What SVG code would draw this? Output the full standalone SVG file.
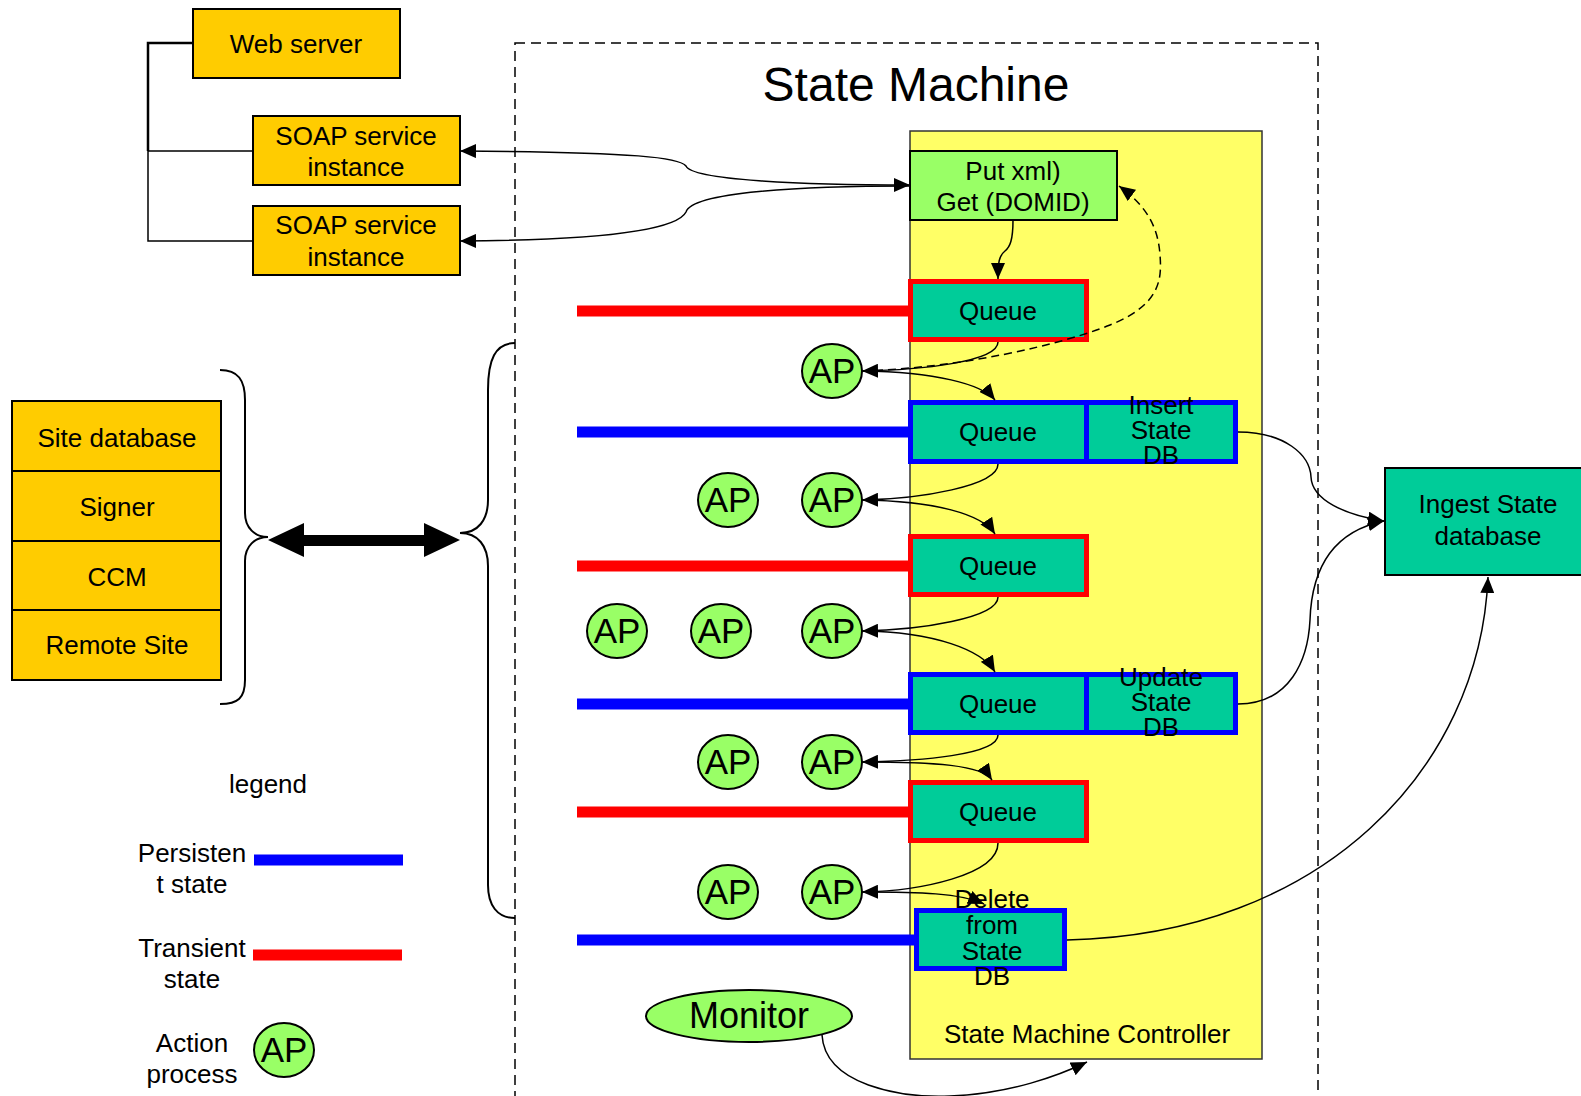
<svg xmlns="http://www.w3.org/2000/svg" width="1581" height="1096" viewBox="0 0 1581 1096">
<defs>
<marker id="arr" markerUnits="userSpaceOnUse" markerWidth="16" markerHeight="14" refX="16" refY="7" orient="auto-start-reverse" viewBox="0 0 16 14">
<path d="M0,0 L16,7 L0,14 z" fill="#000"/>
</marker>
<style>
text{font-family:"Liberation Sans",Arial,sans-serif;font-size:26px;fill:#000;text-anchor:middle}
.orange{fill:#FFCC00;stroke:#000;stroke-width:2}
.teal{fill:#00CC99}
.red{stroke:#FF0000;stroke-width:5}
.blue{stroke:#0000FF;stroke-width:5}
.ap{fill:#99FF66;stroke:#000;stroke-width:2}
.ap-t{font-size:35px}
.link{fill:none;stroke:#000;stroke-width:1.5}
.rl{stroke:#FF0000;stroke-width:11}
.bl{stroke:#0000FF;stroke-width:11}
</style>
</defs>
<rect width="1581" height="1096" fill="#fff"/>

<!-- state machine boundary -->
<g id="state-machine">
<rect x="515" y="43" width="803" height="1070" fill="none" stroke="#000" stroke-width="1.5" stroke-dasharray="10,6"/>
<text x="916" y="101" style="font-size:48px">State Machine</text>
</g>

<!-- controller -->
<g id="controller">
<rect x="910" y="131" width="352" height="928" fill="#FFFF66" stroke="#333" stroke-width="1.5"/>
<text x="1087" y="1043">State Machine Controller</text>
</g>

<!-- web tier -->
<g id="tree" fill="none" stroke="#000">
<path d="M193,43 H148 V151" stroke-width="2.5"/>
<path d="M253,151 H148 V241 H253" stroke-width="1.5"/>
</g>
<g id="web-server"><rect class="orange" x="193" y="9" width="207" height="69"/><text x="296" y="53">Web server</text></g>
<g id="soap-1"><rect class="orange" x="253" y="116" width="207" height="69"/><text x="356" y="145">SOAP service</text><text x="356" y="176">instance</text></g>
<g id="soap-2"><rect class="orange" x="253" y="206" width="207" height="69"/><text x="356" y="234">SOAP service</text><text x="356" y="266">instance</text></g>

<!-- external services -->
<g id="services">
<rect class="orange" x="12" y="401" width="209" height="70"/><text x="117" y="447">Site database</text>
<rect class="orange" x="12" y="471" width="209" height="70"/><text x="117" y="516">Signer</text>
<rect class="orange" x="12" y="541" width="209" height="69"/><text x="117" y="586">CCM</text>
<rect class="orange" x="12" y="610" width="209" height="70"/><text x="117" y="654">Remote Site</text>
</g>
<g id="braces" fill="none" stroke="#000" stroke-width="2">
<path d="M220,370 C238,370 245,380 245,400 L245,513 C245,528 255,537 268,537 C255,537 245,546 245,561 L245,680 C245,698 238,704 220,704"/>
<path d="M515,343 C495,343 488,360 488,390 L488,500 C488,520 478,533 460,533 C478,533 488,546 488,566 L488,885 C488,905 497,918 515,918"/>
</g>
<g id="service-link">
<polygon points="268,540 304,523 304,535 424,535 424,523 460,540 424,557 424,546 304,546 304,557" fill="#000"/>
</g>

<!-- state lines -->
<g id="state-lines">
<line class="rl" x1="577" y1="311" x2="910" y2="311"/>
<line class="bl" x1="577" y1="432" x2="910" y2="432"/>
<line class="rl" x1="577" y1="566" x2="910" y2="566"/>
<line class="bl" x1="577" y1="704" x2="910" y2="704"/>
<line class="rl" x1="577" y1="812" x2="910" y2="812"/>
<line class="bl" x1="577" y1="940" x2="916" y2="940"/>
</g>

<!-- controller contents -->
<g id="put-get"><rect x="910" y="151" width="207" height="69" fill="#99FF66" stroke="#000" stroke-width="2"/><text x="1013" y="180">Put xml)</text><text x="1013" y="211">Get (DOMID)</text></g>
<g id="queue-1"><rect class="teal red" x="910.5" y="281.5" width="176" height="58"/><text x="998" y="320">Queue</text></g>
<g id="queue-2"><rect class="teal blue" x="910.5" y="402.5" width="176" height="59"/><text x="998" y="441">Queue</text></g>
<g id="insert-db"><rect class="teal blue" x="1086.5" y="402.5" width="149" height="59"/><text x="1161" y="414">Insert</text><text x="1161" y="439">State</text><text x="1161" y="464">DB</text></g>
<g id="queue-3"><rect class="teal red" x="910.5" y="536.5" width="176" height="58"/><text x="998" y="575">Queue</text></g>
<g id="queue-4"><rect class="teal blue" x="910.5" y="674.5" width="176" height="58"/><text x="998" y="713">Queue</text></g>
<g id="update-db"><rect class="teal blue" x="1086.5" y="674.5" width="149" height="58"/><text x="1161" y="686">Update</text><text x="1161" y="711">State</text><text x="1161" y="736">DB</text></g>
<g id="queue-5"><rect class="teal red" x="910.5" y="782.5" width="176" height="58"/><text x="998" y="821">Queue</text></g>
<g id="delete-db"><rect class="teal blue" x="916.5" y="910.5" width="148" height="58"/><text x="992" y="908">Delete</text><text x="992" y="934">from</text><text x="992" y="960">State</text><text x="992" y="985">DB</text></g>

<!-- action processes -->
<g id="ap-1"><ellipse class="ap" cx="832" cy="371" rx="30" ry="27"/><text class="ap-t" x="832" y="383">AP</text></g>
<g id="ap-2a"><ellipse class="ap" cx="728" cy="500" rx="30" ry="27"/><text class="ap-t" x="728" y="512">AP</text></g>
<g id="ap-2b"><ellipse class="ap" cx="832" cy="500" rx="30" ry="27"/><text class="ap-t" x="832" y="512">AP</text></g>
<g id="ap-3a"><ellipse class="ap" cx="617" cy="631" rx="30" ry="27"/><text class="ap-t" x="617" y="643">AP</text></g>
<g id="ap-3b"><ellipse class="ap" cx="721" cy="631" rx="30" ry="27"/><text class="ap-t" x="721" y="643">AP</text></g>
<g id="ap-3c"><ellipse class="ap" cx="832" cy="631" rx="30" ry="27"/><text class="ap-t" x="832" y="643">AP</text></g>
<g id="ap-4a"><ellipse class="ap" cx="728" cy="762" rx="30" ry="27"/><text class="ap-t" x="728" y="774">AP</text></g>
<g id="ap-4b"><ellipse class="ap" cx="832" cy="762" rx="30" ry="27"/><text class="ap-t" x="832" y="774">AP</text></g>
<g id="ap-5a"><ellipse class="ap" cx="728" cy="892" rx="30" ry="27"/><text class="ap-t" x="728" y="904">AP</text></g>
<g id="ap-5b"><ellipse class="ap" cx="832" cy="892" rx="30" ry="27"/><text class="ap-t" x="832" y="904">AP</text></g>

<g id="monitor"><ellipse class="ap" cx="749" cy="1016" rx="103" ry="26"/><text x="749" y="1028" style="font-size:36px">Monitor</text></g>

<g id="ingest-db"><rect class="teal" x="1385" y="468" width="200" height="107" stroke="#000" stroke-width="2"/><text x="1488" y="513">Ingest State</text><text x="1488" y="545">database</text></g>

<!-- legend -->
<g id="legend">
<text x="268" y="793">legend</text>
<text x="192" y="862">Persisten</text><text x="192" y="893">t state</text>
<line class="bl" x1="254" y1="860" x2="403" y2="860"/>
<text x="192" y="957">Transient</text><text x="192" y="988">state</text>
<line class="rl" x1="253" y1="955" x2="402" y2="955"/>
<text x="192" y="1052">Action</text><text x="192" y="1083">process</text>
<ellipse class="ap" cx="284" cy="1050" rx="30" ry="27"/><text class="ap-t" x="284" y="1062">AP</text>
</g>

<!-- connectors -->
<g id="connectors" class="link" fill="none" stroke="#000" stroke-width="1.5">
<path d="M460,151 C640,152 680,158 686,166 C692,180 800,185 910,185" marker-start="url(#arr)" marker-end="url(#arr)"/>
<path d="M460,241 C640,240 680,224 686,212 C692,192 800,186 910,186" marker-start="url(#arr)"/>
<path d="M1013,220 C1013,240 1010,247 1005,251 C999,256 998,262 998,279" marker-end="url(#arr)"/>
<path d="M862,371 C960,368 1060,345 1110,325 C1160,305 1162,280 1160,255 C1158,225 1145,205 1119,186" stroke-dasharray="8,5" marker-end="url(#arr)"/>

<path d="M998,342 C998,362 920,370 862,371" marker-end="url(#arr)"/>
<path d="M862,371 C935,372 982,384 995,400" marker-end="url(#arr)"/>
<path d="M998,464 C998,486 920,499 862,500" marker-end="url(#arr)"/>
<path d="M862,500 C935,501 982,514 995,534" marker-end="url(#arr)"/>
<path d="M998,597 C998,618 920,630 862,631" marker-end="url(#arr)"/>
<path d="M862,631 C935,632 982,650 995,672" marker-end="url(#arr)"/>
<path d="M998,735 C998,755 920,761 862,762" marker-end="url(#arr)"/>
<path d="M862,762 C935,762 982,765 992,780" marker-end="url(#arr)"/>
<path d="M998,843 C998,875 920,891 862,892" marker-end="url(#arr)"/>
<path d="M862,892 C920,892 960,893 984,904" marker-end="url(#arr)"/>

<path d="M1238,432 C1285,432 1310,455 1311,477 C1312,500 1345,515 1384,521" marker-end="url(#arr)"/>
<path d="M1238,704 C1290,704 1308,660 1310,620 C1312,560 1340,530 1384,521" marker-end="url(#arr)"/>
<path d="M1067,940 C1320,935 1480,770 1488,577" marker-end="url(#arr)"/>
<path d="M822,1035 C825,1085 900,1098 950,1096 C1010,1094 1060,1075 1087,1062" marker-end="url(#arr)"/>
</g>
</svg>
